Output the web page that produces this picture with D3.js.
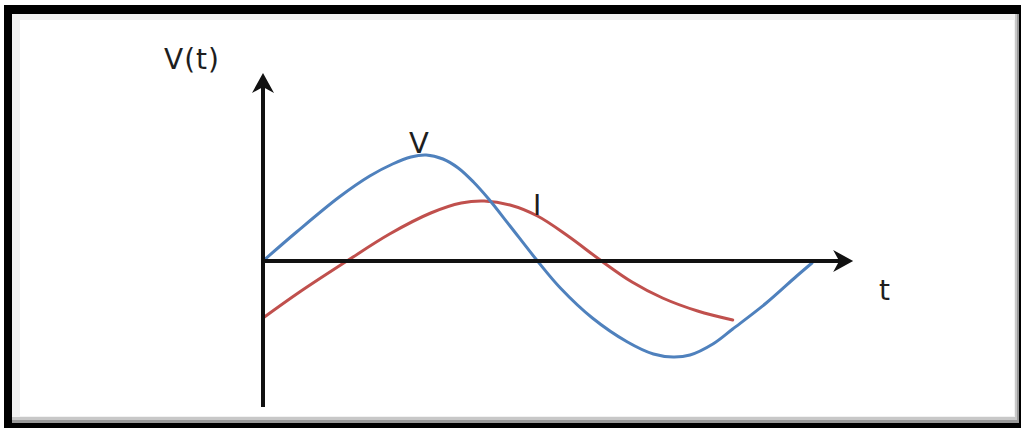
<!DOCTYPE html>
<html>
<head>
<meta charset="utf-8">
<script src="https://cdn.jsdelivr.net/npm/d3@7"></script>
<style>
  html, body { margin: 0; padding: 0; background: #fff; }
  svg { display: block; }
  text { font-family: "DejaVu Sans", sans-serif; fill: #1e1e1e; }
</style>
</head>
<body>
<svg id="chart" width="1021" height="428"></svg>
<script>
// Phase angle (degrees) and normalised amplitudes of the two waveforms
const voltageT = [0, 22, 50, 70, 85, 97, 107, 118, 128, 138, 148, 162, 180, 195, 216, 239, 256, 269, 280, 295, 308, 330, 350, 360];
const voltage  = [0, 0.29, 0.64, 0.85, 0.97, 1.04, 1.06, 1.02, 0.93, 0.79, 0.62, 0.35, 0, -0.27, -0.57, -0.81, -0.93, -0.96, -0.94, -0.83, -0.68, -0.42, -0.15, -0.02];

const currentT = [0, 24, 55, 83, 110, 130, 145, 162, 180, 200, 222, 242, 262, 285, 308];
const current  = [-0.57, -0.31, 0, 0.27, 0.48, 0.58, 0.60, 0.56, 0.45, 0.25, 0, -0.21, -0.37, -0.50, -0.59];

// Axis extents in data units
const tAxisExtent = [0, 387];
const vAxisExtent = [-1.46, 1.88];

const axisLabels = { y: "V(t)", x: "t" };
const seriesLabels = ["V", "I"];

const svg = d3.select("#chart");
const W = 1021, H = 428;

// Picture frame: black border with a soft grey drop shadow inside
const frame = svg.append("g");
frame.append("rect").attr("x", 0).attr("y", 0).attr("width", W).attr("height", H).attr("fill", "#fff");
frame.append("rect").attr("x", 4).attr("y", 5).attr("width", W - 4).attr("height", H - 5).attr("fill", "#000");
frame.append("rect").attr("x", 12).attr("y", 14).attr("width", 1007).attr("height", 409).attr("fill", "#9a9a9a");
frame.append("rect").attr("x", 12).attr("y", 14).attr("width", 1005).attr("height", 406).attr("fill", "#c8c8c8");
frame.append("rect").attr("x", 12).attr("y", 14).attr("width", 1003).attr("height", 403).attr("fill", "#f2f2f2");
frame.append("rect").attr("x", 20).attr("y", 20).attr("width", 994).attr("height", 396).attr("fill", "#fff");

const x = d3.scaleLinear().domain([0, 360]).range([263, 812]);
const y = d3.scaleLinear().domain([-1, 1]).range([361, 161]);

const line = d3.line()
  .x(d => x(d[0]))
  .y(d => y(d[1]))
  .curve(d3.curveCatmullRom.alpha(0.5));

const vData = voltageT.map((t, i) => [t, voltage[i]]);
const iData = currentT.map((t, i) => [t, current[i]]);

// Waveforms
svg.append("path").datum(iData).attr("d", line)
  .attr("fill", "none").attr("stroke", "#c0504d").attr("stroke-width", 3).attr("stroke-linecap", "round");
svg.append("path").datum(vData).attr("d", line)
  .attr("fill", "none").attr("stroke", "#4f81bd").attr("stroke-width", 3).attr("stroke-linecap", "round");

// Axes with arrowheads
const ax = svg.append("g");
const x0 = x(0), y0 = y(0);
const xEnd = x(tAxisExtent[1]), yTop = y(vAxisExtent[1]), yBot = y(vAxisExtent[0]);
ax.append("line").attr("x1", x0).attr("y1", yBot).attr("x2", x0).attr("y2", yTop + 10)
  .attr("stroke", "#111").attr("stroke-width", 4);
ax.append("line").attr("x1", x0).attr("y1", y0).attr("x2", xEnd - 10).attr("y2", y0)
  .attr("stroke", "#111").attr("stroke-width", 4);

const headLen = 20, headHalf = 11, notch = 6;
ax.append("path")
  .attr("d", `M${x0},${yTop} L${x0 + headHalf},${yTop + headLen} L${x0},${yTop + headLen - notch} L${x0 - headHalf},${yTop + headLen} Z`)
  .attr("fill", "#111");
ax.append("path")
  .attr("d", `M${xEnd},${y0} L${xEnd - headLen},${y0 - headHalf} L${xEnd - headLen + notch},${y0} L${xEnd - headLen},${y0 + headHalf} Z`)
  .attr("fill", "#111");

// Labels
svg.append("text").attr("x", 164).attr("y", 69).attr("font-size", 28).attr("letter-spacing", 1).text(axisLabels.y);
svg.append("text").attr("x", 879).attr("y", 300).attr("font-size", 28).text(axisLabels.x);
svg.append("text").attr("x", 409).attr("y", 153).attr("font-size", 29).text(seriesLabels[0]);
svg.append("text").attr("x", 533).attr("y", 215).attr("font-size", 28).text(seriesLabels[1]);
</script>
</body>
</html>
